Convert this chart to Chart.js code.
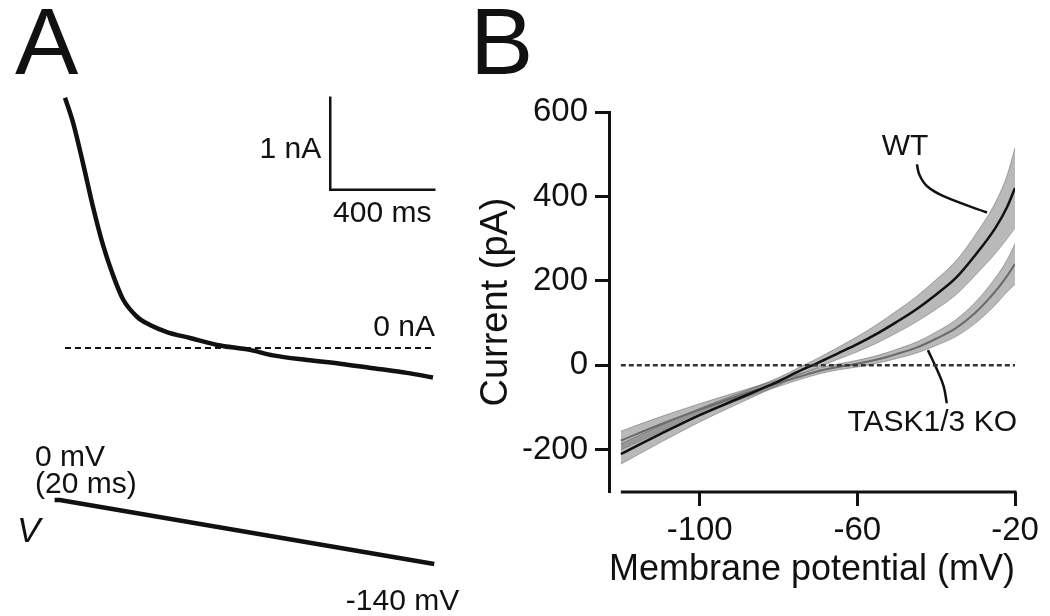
<!DOCTYPE html>
<html>
<head>
<meta charset="utf-8">
<script src="https://cdn.jsdelivr.net/npm/chart.js@4.4.1/dist/chart.umd.min.js"></script>
<style>
  html, body { margin: 0; padding: 0; background: #fff; }
  body { width: 1050px; height: 616px; position: relative; overflow: hidden; font-family: "Liberation Sans", Arial, sans-serif; }
  .wrap { position: absolute; }
  .panel { position: absolute; font-size: 95px; line-height: 95px; color: #111; }
</style>
</head>
<body>
<div class="panel" style="left:15px;top:-6px">A</div>
<div class="panel" style="left:470px;top:-6px">B</div>
<div class="wrap" style="left:0;top:0"><canvas id="chartA" width="460" height="616"></canvas></div>
<div class="wrap" style="left:440px;top:0"><canvas id="chartB" width="610" height="616"></canvas></div>
<script>
// ---- panel A: ramp current (nA) vs time (ms) and the command ramp
var rampTime = [0, 31, 69, 108, 146, 181, 223, 277, 327, 392, 481, 585, 711, 800, 931, 1058, 1185, 1315, 1415];
var rampCurrent = [2.72, 2.45, 2.01, 1.53, 1.12, 0.82, 0.53, 0.34, 0.25, 0.174, 0.109, 0.033, -0.02, -0.08, -0.13, -0.17, -0.22, -0.27, -0.32];
var cmdTime = [-40, -20, 1420];
var cmdVoltage = [0, 0, -140];

// ---- panel B: I-V curves (mean +/- SEM)
var membranePotential = [-120, -110, -100, -90, -80, -75, -70, -65, -60, -55, -50, -45, -40, -35, -30, -25, -22, -20];
var wtMean = [-210, -163, -118, -78, -38, -15, 6, 28, 50, 75, 103, 133, 168, 207, 262, 325, 375, 420];
var wtSem  = [24, 20, 16, 12, 9, 9, 11, 14, 18, 22, 26, 30, 35, 40, 48, 60, 75, 95];
var koMean = [-178, -140, -105, -72, -42, -28, -14, -4, 4, 14, 27, 42, 63, 88, 125, 175, 212, 240];
var koSem  = [22, 18, 14, 10, 8, 7, 7, 7, 8, 9, 11, 13, 16, 20, 25, 32, 38, 48];
var xTicks = [-100, -60, -20];
var yTicks = [-200, 0, 200, 400, 600];

function pts(xs, ys) {
    return xs.map(function (x, i) { return {x: x, y: ys[i]}; });
}

// draws text labels anchored in data coordinates
var textLabels = {
    id: 'textLabels',
    afterDatasetsDraw: function (chart, args, opts) {
        var ctx = chart.ctx;
        ctx.save();
        opts.items.forEach(function (t) {
            var xs = chart.scales[t.xAxis || 'x'], ys = chart.scales[t.yAxis || 'y'];
            ctx.font = t.font;
            ctx.fillStyle = '#111';
            ctx.textAlign = t.align || 'left';
            ctx.textBaseline = 'middle';
            ctx.fillText(t.text, xs.getPixelForValue(t.x), ys.getPixelForValue(t.y));
        });
        ctx.restore();
    }
};

// x axis line of panel B starts at the first data point, detached from the y axis
var xAxisLine = {
    id: 'xAxisLine',
    afterDraw: function (chart) {
        var ctx = chart.ctx, xs = chart.scales.x, a = chart.chartArea;
        ctx.save();
        ctx.strokeStyle = '#111';
        ctx.lineWidth = 3;
        ctx.beginPath();
        ctx.moveTo(xs.getPixelForValue(membranePotential[0]), a.bottom);
        ctx.lineTo(xs.getPixelForValue(-20) + 1.5, a.bottom);
        ctx.stroke();
        ctx.restore();
    }
};

var font = '"Liberation Sans", Arial, sans-serif';
var fontA = '30px ' + font;

var ctxA = document.getElementById('chartA').getContext('2d');
var chartA = new Chart(ctxA, {
    type: 'line',
    data: {
        datasets: [{
                label: 'current',
                data: pts(rampTime, rampCurrent),
                borderColor: '#111',
                borderWidth: 4.5,
                cubicInterpolationMode: 'monotone',
                pointRadius: 0
            }, {
                label: 'zero current',
                data: [{x: 0, y: 0}, {x: 1420, y: 0}],
                borderColor: '#111',
                borderWidth: 2,
                borderDash: [6, 4],
                pointRadius: 0
            }, {
                label: 'scale bar',
                data: [{x: 1020, y: 2.72}, {x: 1020, y: 1.72}, {x: 1420, y: 1.72}],
                borderColor: '#111',
                borderWidth: 2.5,
                borderCapStyle: 'square',
                pointRadius: 0
            }, {
                label: 'command',
                data: pts(cmdTime, cmdVoltage),
                yAxisID: 'yV',
                borderColor: '#111',
                borderWidth: 4.5,
                pointRadius: 0
            }
        ]
    },
    options: {
        responsive: false,
        animation: false,
        events: [],
        layout: {padding: 0},
        scales: {
            x: {type: 'linear', display: false, min: -250, max: 1519},
            y: {type: 'linear', display: false, min: -2.913, max: 3.783},
            yV: {type: 'linear', display: false, min: -253.8, max: 1094}
        },
        plugins: {
            legend: {display: false},
            tooltip: {enabled: false},
            textLabels: {
                items: [
                    {text: '1 nA', x: 985, y: 2.15, align: 'right', font: fontA},
                    {text: '400 ms', x: 1220, y: 1.46, align: 'center', font: fontA},
                    {text: '0 nA', x: 1423, y: 0.22, align: 'right', font: fontA},
                    {text: '0 mV', x: -115, y: 92, yAxis: 'yV', font: fontA},
                    {text: '(20 ms)', x: -115, y: 33, yAxis: 'yV', font: fontA},
                    {text: 'V', x: -185, y: -70, yAxis: 'yV', font: 'italic 35px ' + font},
                    {text: '-140 mV', x: 1080, y: -222, yAxis: 'yV', font: fontA}
                ]
            }
        }
    },
    plugins: [textLabels]
});

var band = 'rgba(115, 115, 115, 0.5)';
var bandEdge = 'rgba(85, 85, 85, 0.45)';
var wtUpper = wtMean.map(function (v, i) { return v + wtSem[i]; });
var wtLower = wtMean.map(function (v, i) { return v - wtSem[i]; });
var koUpper = koMean.map(function (v, i) { return v + koSem[i]; });
var koLower = koMean.map(function (v, i) { return v - koSem[i]; });

var ctxB = document.getElementById('chartB').getContext('2d');
var chartB = new Chart(ctxB, {
    type: 'line',
    data: {
        datasets: [{
                label: 'zero',
                data: [{x: -120, y: 0}, {x: -20, y: 0}],
                borderColor: '#333',
                borderWidth: 2.5,
                borderDash: [5, 3],
                pointRadius: 0
            }, {
                label: 'WT',
                data: pts(membranePotential, wtMean),
                borderColor: '#111',
                borderWidth: 2.5,
                cubicInterpolationMode: 'monotone',
                pointRadius: 0
            }, {
                label: 'TASK1/3 KO',
                data: pts(membranePotential, koMean),
                borderColor: '#6a6a6a',
                borderWidth: 2,
                cubicInterpolationMode: 'monotone',
                pointRadius: 0
            }, {
                label: 'WT +SEM',
                data: pts(membranePotential, wtUpper),
                borderColor: bandEdge,
                borderWidth: 1,
                backgroundColor: band,
                fill: {target: 4},
                cubicInterpolationMode: 'monotone',
                pointRadius: 0
            }, {
                label: 'WT -SEM',
                data: pts(membranePotential, wtLower),
                borderColor: bandEdge,
                borderWidth: 1,
                cubicInterpolationMode: 'monotone',
                pointRadius: 0
            }, {
                label: 'KO +SEM',
                data: pts(membranePotential, koUpper),
                borderColor: bandEdge,
                borderWidth: 1,
                backgroundColor: band,
                fill: {target: 6},
                cubicInterpolationMode: 'monotone',
                pointRadius: 0
            }, {
                label: 'KO -SEM',
                data: pts(membranePotential, koLower),
                borderColor: bandEdge,
                borderWidth: 1,
                cubicInterpolationMode: 'monotone',
                pointRadius: 0
            }, {
                label: 'WT pointer',
                data: [{x: -44.9, y: 476}, {x: -44.2, y: 450}, {x: -42.3, y: 424}, {x: -38, y: 400}, {x: -27.1, y: 362}],
                borderColor: '#111',
                borderWidth: 2.5,
                tension: 0.4,
                pointRadius: 0
            }, {
                label: 'KO pointer',
                data: [{x: -42.1, y: 36}, {x: -39.8, y: -10}, {x: -38.1, y: -50}, {x: -37.3, y: -90}],
                borderColor: '#111',
                borderWidth: 2.5,
                tension: 0.4,
                pointRadius: 0
            }
        ]
    },
    options: {
        responsive: false,
        animation: false,
        events: [],
        layout: {padding: {top: 112, right: 35, left: 0, bottom: 0}},
        scales: {
            x: {
                type: 'linear',
                min: -123,
                max: -20,
                afterBuildTicks: function (s) { s.ticks = xTicks.map(function (v) { return {value: v}; }); },
                afterFit: function (s) { s.height = 124; },
                border: {display: false},
                grid: {drawOnChartArea: false, tickLength: 14, tickWidth: 3, color: '#111'},
                ticks: {color: '#111', padding: 5, maxRotation: 0, font: {family: font, size: 33}},
                title: {display: true, text: 'Membrane potential (mV)', color: '#111',
                    padding: {top: 0, bottom: 24}, font: {family: font, size: 37}}
            },
            y: {
                type: 'linear',
                min: -300,
                max: 600,
                afterBuildTicks: function (s) { s.ticks = yTicks.map(function (v) { return {value: v}; }); },
                afterFit: function (s) { s.width = 169; },
                border: {display: true, width: 3, color: '#111'},
                grid: {drawOnChartArea: false, tickLength: 14, tickWidth: 3, color: '#111'},
                ticks: {color: '#111', padding: 7, font: {family: font, size: 33}},
                title: {display: true, text: 'Current (pA)', color: '#111',
                    padding: {top: 34, bottom: 0}, font: {family: font, size: 38}}
            }
        },
        plugins: {
            legend: {display: false},
            tooltip: {enabled: false},
            textLabels: {
                items: [
                    {text: 'WT', x: -47.9, y: 517, align: 'center', font: '30px ' + font},
                    {text: 'TASK1/3 KO', x: -19.5, y: -136, align: 'right', font: '30px ' + font}
                ]
            }
        }
    },
    plugins: [textLabels, xAxisLine]
});
</script>
</body>
</html>
